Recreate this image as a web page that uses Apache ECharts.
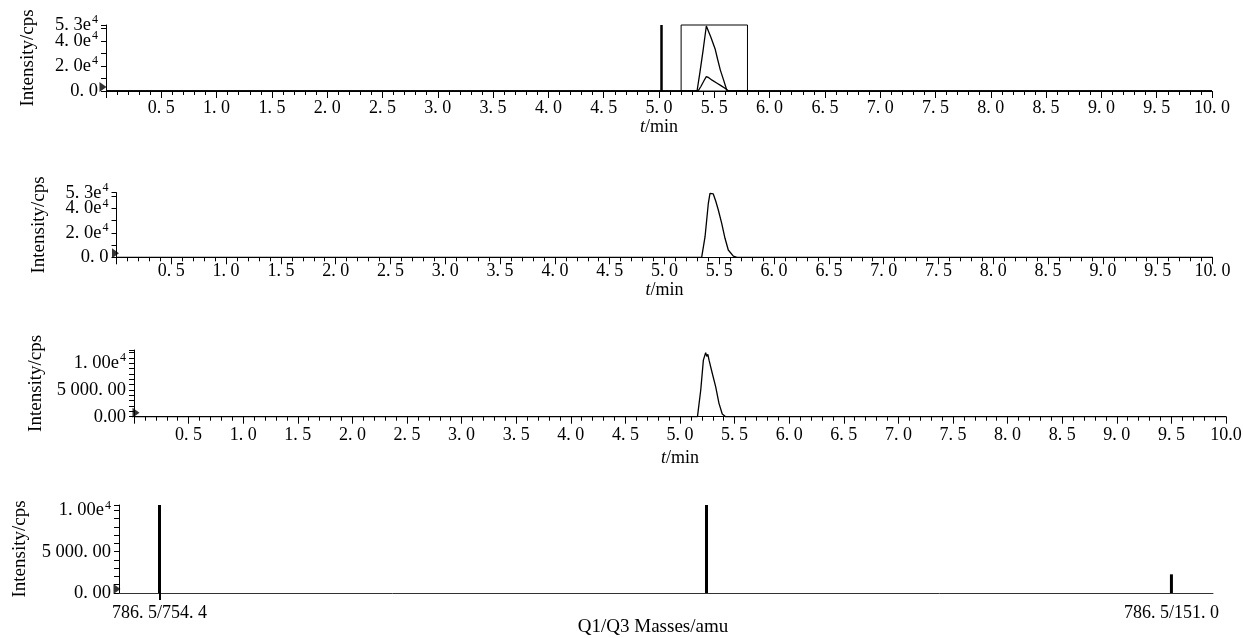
<!DOCTYPE html>
<html>
<head>
<meta charset="utf-8">
<script src="https://cdn.jsdelivr.net/npm/echarts@6/dist/echarts.min.js"></script>
<style>html,body{margin:0;padding:0;background:#fff;}#c{width:1243px;height:638px;}</style>
</head>
<body>
<div id="c"></div>
<script>
// ---- data ----
const timeTicks = [0.5, 1.0, 1.5, 2.0, 2.5, 3.0, 3.5, 4.0, 4.5, 5.0, 5.5, 6.0, 6.5, 7.0, 7.5, 8.0, 8.5, 9.0, 9.5, 10.0];
// Panel 1: two overlaid chromatogram traces, a marker line and a window box
const p1MainT = [0, 5.344, 5.37, 5.40, 5.428, 5.439, 5.47, 5.509, 5.53, 5.554, 5.585, 5.615, 10];
const p1MainV = [0, 0, 15000, 33500, 52200, 52200, 43000, 33300, 25500, 17000, 8500, 0, 0];
const p1MinorT = [0, 5.353, 5.38, 5.41, 5.428, 5.45, 5.48, 5.525, 5.56, 5.60, 5.63, 10];
const p1MinorV = [0, 0, 3800, 8800, 11600, 10700, 8700, 6250, 4300, 2000, 0, 0];
const p1MarkerLine = [5.02];
const p1WindowBox = [5.20, 5.80];
// Panel 2
const p2T = [0, 5.339, 5.37, 5.40, 5.415, 5.424, 5.445, 5.468, 5.491, 5.522, 5.552, 5.582, 5.628, 5.661, 10];
const p2V = [0, 0, 16900, 44300, 52500, 53000, 52000, 46000, 38800, 27900, 15600, 6000, 1000, 0, 0];
// Panel 3
const p3T = [0, 5.16, 5.19, 5.214, 5.235, 5.245, 5.255, 5.266, 5.296, 5.327, 5.357, 5.387, 5.418, 10];
const p3V = [0, 0, 5000, 10600, 12000, 11300, 11700, 10600, 8100, 5600, 2500, 500, 0, 0];
// Panel 4: MRM transitions
const massPos = [3.7, 53.7, 96.2];
const massIntensity = [10650, 10650, 2260];
const massLabelPos = [3.7, 96.2];
const massLabels = ['786. 5/754. 4', '786. 5/151. 0'];
// y tick labels
const yLabels12 = {0: '{n|0. 0}', 20000: '{n|2. 0e}{s|4}', 40000: '{n|4. 0e}{s|4}', 53000: '{n|5. 3e}{s|4}'};
const yLabels3 = {0: '{n|0.00}', 5000: '{n|5 000. 00}', 10000: '{n|1. 00e}{s|4}'};
const yLabels4 = {0: '{n|0. 00}', 5000: '{n|5 000. 00}', 10000: '{n|1. 00e}{s|4}'};

// ---- chart ----
const FONT = 'Liberation Serif';
const BLACK = '#000';
const richY = {
  n: {fontFamily: FONT, fontSize: 18.5, color: BLACK},
  s: {fontFamily: FONT, fontSize: 12, color: BLACK, padding: [0, 0, 10, 1]}
};
const zip = (a, b) => a.map((v, i) => [v, b[i]]);

const gridBase = {containLabel: false, outerBoundsMode: 'none'};
const grids = [
  Object.assign({left: 106, width: 1106, top: 25, height: 66}, gridBase),
  Object.assign({left: 116.5, width: 1096, top: 192.7, height: 64.6}, gridBase),
  Object.assign({left: 134, width: 1092, top: 350, height: 66.7}, gridBase),
  Object.assign({left: 119, width: 1094, top: 505, height: 88}, gridBase)
];

function timeAxis(gi, margin, nameGap, lastLabel) {
  return {
    type: 'value', gridIndex: gi, min: 0, max: 10, interval: 0.5,
    axisLine: {show: true, onZero: false, lineStyle: {color: BLACK, width: 1}},
    axisTick: {show: true, length: 7, lineStyle: {color: BLACK}},
    minorTick: {show: true, splitNumber: 5, length: 4, lineStyle: {color: BLACK}},
    splitLine: {show: false}, minorSplitLine: {show: false},
    axisLabel: {
      showMinLabel: false, margin: margin, color: BLACK, fontFamily: FONT, fontSize: 18,
      formatter: v => (timeTicks.indexOf(v) < 0 ? '' : (v === 10 && lastLabel ? lastLabel : v.toFixed(1).replace('.', '. ')))
    },
    name: '{i|t}{n|/min}', nameLocation: 'middle', nameGap: nameGap,
    nameTextStyle: {rich: {i: {fontFamily: FONT, fontSize: 18, fontStyle: 'italic', color: BLACK}, n: {fontFamily: FONT, fontSize: 18, color: BLACK}}}
  };
}

function intensityAxis(gi, max, interval, labels, nameGap) {
  return {
    type: 'value', gridIndex: gi, min: 0, max: max, interval: interval,
    axisLine: {show: true, lineStyle: {color: BLACK, width: 1}},
    axisTick: {show: true, length: 5, lineStyle: {color: BLACK}},
    splitLine: {show: false},
    axisLabel: {margin: 8, formatter: v => labels[v] || '', rich: richY, showMaxLabel: true},
    name: 'Intensity/cps', nameLocation: 'middle', nameRotate: 90, nameGap: nameGap,
    nameTextStyle: {fontFamily: FONT, fontSize: 19, color: BLACK}
  };
}

const lineStyle = {color: BLACK, width: 1.3};
function trace(gi, data) {
  return {type: 'line', xAxisIndex: gi, yAxisIndex: gi, data: data, showSymbol: false, symbol: 'none',
    lineStyle: lineStyle, clip: false, animation: false, z: 3};
}
function origin(gi, off) {
  return {type: 'scatter', xAxisIndex: gi, yAxisIndex: gi, data: [[0, 0]], symbol: 'triangle',
    symbolRotate: -90, symbolSize: [10, 7], symbolOffset: off, itemStyle: {color: BLACK}, clip: false, animation: false, z: 5, silent: true};
}

const option = {
  animation: false,
  backgroundColor: '#fff',
  textStyle: {fontFamily: FONT},
  grid: grids,
  xAxis: [
    timeAxis(0, 8, 23),
    timeAxis(1, 5, 22),
    timeAxis(2, 10, 33, '10.0'),
    {
      type: 'value', gridIndex: 3, min: 0, max: 100,
      axisLine: {show: true, lineStyle: {color: '#333', width: 1}},
      axisTick: {show: true, customValues: [massLabelPos[0]], length: 7, lineStyle: {color: BLACK, width: 2}},
      splitLine: {show: false},
      axisLabel: {customValues: massLabelPos, margin: 11, color: BLACK, fontFamily: FONT, fontSize: 18,
        formatter: v => { const i = massLabelPos.indexOf(v); return i < 0 ? '' : massLabels[i]; }},
      name: 'Q1/Q3 Masses/amu', nameLocation: 'middle', nameGap: 25, nameMoveOverlap: false,
      nameTextStyle: {fontFamily: FONT, fontSize: 19, color: BLACK, padding: [0, 26, 0, 0]}
    }
  ],
  yAxis: [
    intensityAxis(0, 53000, 10000, yLabels12, 68),
    intensityAxis(1, 53000, 10000, yLabels12, 68),
    intensityAxis(2, 12500, 1000, yLabels3, 86),
    intensityAxis(3, 10650, 1000, yLabels4, 89)
  ],
  series: [
    Object.assign(trace(0, zip(p1MainT, p1MainV)), {
      markLine: {silent: true, symbol: 'none', label: {show: false},
        lineStyle: {color: BLACK, width: 2.5, type: 'solid'},
        data: p1MarkerLine.map(t => [{coord: [t, 0]}, {coord: [t, 53000]}])},
      markArea: {silent: true, label: {show: false},
        itemStyle: {color: 'rgba(0,0,0,0)', borderColor: BLACK, borderWidth: 1},
        data: [[{coord: [p1WindowBox[0], 0]}, {coord: [p1WindowBox[1], 53000]}]]}
    }),
    trace(0, zip(p1MinorT, p1MinorV)),
    trace(1, zip(p2T, p2V)),
    trace(2, zip(p3T, p3V)),
    {type: 'bar', xAxisIndex: 3, yAxisIndex: 3, data: zip(massPos, massIntensity), barWidth: 3,
      itemStyle: {color: BLACK}, animation: false},
    origin(0, [-3, -4]),
    origin(1, [-1, -4]),
    origin(2, [2, -4]),
    origin(3, [-2, -4])
  ]
};
echarts.init(document.getElementById('c')).setOption(option);
</script>
</body>
</html>
